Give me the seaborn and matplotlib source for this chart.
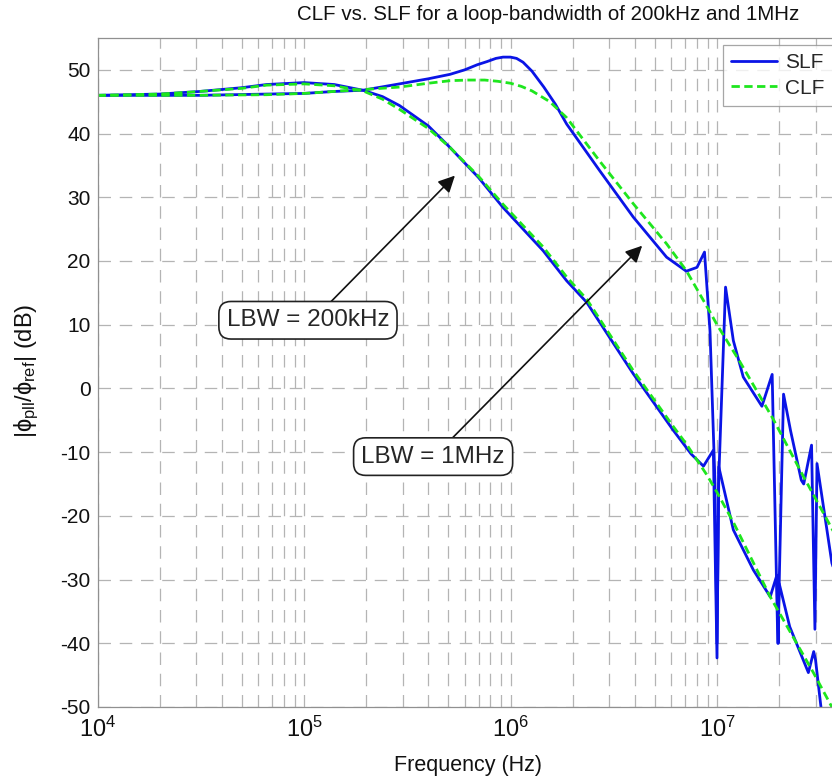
import numpy as np
import pandas as pd
import matplotlib
matplotlib.use("Agg")
import matplotlib.pyplot as plt
import seaborn as sns

# --- Du lieu doc tu hinh (tan so Hz, bien do dB) ---
slf_200k_f = [1e4, 2e4, 3.1e4, 5e4, 6.6e4, 1e5, 1.4e5, 1.93e5, 2.4e5, 2.9e5, 4e5, 5.1e5, 7e5,
              9.2e5, 1.44e6, 1.87e6, 2.34e6, 3.93e6, 6.15e6, 7.5e6, 8.6e6, 9.6e6,
              1.0e7, 1.02e7, 1.2e7, 1.5e7, 1.81e7, 1.95e7, 1.98e7, 2.0e7, 2.25e7,
              2.77e7, 2.94e7, 3.0e7, 3.2e7, 3.6e7]
slf_200k_db = [46.0, 46.2, 46.6, 47.2, 47.7, 48.0, 47.7, 46.8, 45.8, 44.4, 41.2, 37.8, 33.1,
               28.4, 21.6, 16.9, 13.5, 2.3, -6.6, -10.3, -12.2, -9.7,
               -42.3, -12.3, -22.2, -28.5, -32.7, -29.3, -40.0, -30.6, -37.4,
               -44.6, -41.3, -42.6, -50.5, -56.0]

clf_200k_f = [1e4, 2e4, 3.1e4, 5e4, 6.6e4, 1e5, 1.4e5, 1.93e5, 2.4e5, 2.9e5, 4e5, 5.1e5, 7e5,
              9.2e5, 1.44e6, 1.87e6, 2.34e6, 3.93e6, 6.15e6, 7.13e6, 8.9e6, 1e7,
              1.2e7, 1.81e7, 2.94e7, 3.6e7, 4.5e7]
clf_200k_db = [46.0, 46.2, 46.6, 47.1, 47.6, 47.8, 47.5, 46.7, 45.4, 43.8, 40.8, 37.8, 33.3,
               28.9, 22.2, 17.5, 14.0, 2.8, -6.0, -8.8, -13.5, -16.3,
               -21.0, -32.7, -44.7, -50.0, -55.5]

slf_1m_f = [1e4, 3.1e4, 6.6e4, 1e5, 1.38e5, 1.93e5, 2.9e5, 4e5, 5.1e5, 6e5, 6.9e5, 7.7e5,
            8.5e5, 9.2e5, 1e6, 1.07e6, 1.15e6, 1.27e6, 1.45e6, 1.65e6, 1.87e6, 2.7e6,
            3.93e6, 5.7e6, 7.1e6, 8.0e6, 8.7e6, 9.25e6,
            9.77e6, 1.0e7, 1.02e7, 1.1e7, 1.2e7, 1.34e7, 1.65e7, 1.85e7, 1.97e7,
            2.1e7, 2.27e7, 2.56e7, 2.63e7, 2.87e7, 2.98e7, 3.05e7, 3.6e7, 4.0e7]
slf_1m_db = [46.0, 46.0, 46.2, 46.3, 46.6, 46.8, 47.8, 48.6, 49.3, 50.0, 50.8, 51.3,
             51.8, 52.0, 52.0, 51.8, 51.2, 49.8, 47.3, 44.6, 41.5, 34.2,
             26.9, 20.6, 18.4, 19.0, 21.4, 9.0,
             -14.4, -40.0, -14.0, 15.9, 7.5, 1.8, -2.8, 2.2, -40.0,
             -0.9, -6.6, -14.4, -15.0, -8.9, -37.8, -11.8, -27.4, -32.0]

clf_1m_f = [1e4, 3.1e4, 6.6e4, 1e5, 1.38e5, 1.93e5, 2.9e5, 4e5, 5.1e5, 6.2e5, 7.5e5, 8.7e5,
            1e6, 1.13e6, 1.27e6, 1.55e6, 1.87e6, 2.7e6, 3.93e6, 5.7e6, 7.1e6, 9.25e6,
            1e7, 1.29e7, 1.87e7, 2.6e7, 3.6e7, 4.5e7]
clf_1m_db = [46.0, 46.0, 46.1, 46.3, 46.6, 46.9, 47.3, 47.9, 48.3, 48.4, 48.4, 48.2,
             47.9, 47.4, 46.7, 45.0, 42.5, 35.7, 29.0, 22.7, 18.5, 12.0,
             10.0, 4.2, -4.8, -13.6, -22.0, -28.0]

x_ticks = [1e4, 1e5, 1e6, 1e7]
y_ticks = list(range(-50, 51, 10))

# --- Gom thanh bang dai ---
frames = []
for f, db, loai, lbw in [(slf_200k_f, slf_200k_db, "SLF", "200kHz"),
                         (clf_200k_f, clf_200k_db, "CLF", "200kHz"),
                         (slf_1m_f, slf_1m_db, "SLF", "1MHz"),
                         (clf_1m_f, clf_1m_db, "CLF", "1MHz")]:
    frames.append(pd.DataFrame({"freq": f, "db": db, "filter": loai, "lbw": lbw}))
df = pd.concat(frames, ignore_index=True)

# --- Style ---
sns.set_theme(style="white")
plt.rcParams["font.family"] = ["Liberation Sans", "DejaVu Sans"]
plt.rcParams["mathtext.fontset"] = "custom"
plt.rcParams["mathtext.rm"] = "Liberation Sans"
plt.rcParams["mathtext.it"] = "Liberation Sans"
plt.rcParams["mathtext.bf"] = "Liberation Sans:bold"
plt.rcParams["axes.unicode_minus"] = False

W, H = 832, 783
fig = plt.figure(figsize=(W / 100, H / 100), dpi=100)
ax_left, ax_bottom, ax_top = 97.5, 707, 38
ax_w = 4 * 206.5
ax = fig.add_axes([ax_left / W, 1 - ax_bottom / H, ax_w / W, (ax_bottom - ax_top) / H])

sns.lineplot(data=df, x="freq", y="db", hue="filter", style="filter", units="lbw",
             estimator=None, sort=False, hue_order=["SLF", "CLF"],
             style_order=["SLF", "CLF"],
             palette={"SLF": "#0a14e6", "CLF": "#1ee61e"},
             dashes={"SLF": "", "CLF": (3, 1.6)}, linewidth=2, ax=ax)

ax.set_xscale("log")
ax.set_xlim(1e4, 1e8)
ax.set_ylim(-50, 55)
ax.set_xticks(x_ticks)
ax.set_yticks(y_ticks)

grid_kw = dict(color="#b4b4b4", linestyle=(0, (10, 7)), linewidth=0.9)
ax.grid(True, which="major", axis="both", **grid_kw)
ax.grid(True, which="minor", axis="x", **grid_kw)
ax.set_axisbelow(True)

ax.tick_params(axis="both", which="both", direction="in", color="#909090",
               labelsize=15, labelcolor="#111111", top=False, right=False)
ax.tick_params(axis="x", which="major", length=8, pad=7, labelsize=17)
ax.tick_params(axis="x", which="minor", length=8)
ax.tick_params(axis="y", which="major", length=8, pad=5)
for s in ax.spines.values():
    s.set_color("#909090")
    s.set_linewidth(0.9)

ax.set_xlabel("Frequency (Hz)", fontsize=15.5, color="#111111")
ax.xaxis.set_label_coords((468 - ax_left) / ax_w, -(765 - ax_bottom) / (ax_bottom - ax_top))
ax.xaxis.label.set_va("center")
ax.set_ylabel(r"$|\phi_{pll}/\phi_{ref}|$ (dB)", fontsize=17, color="#111111")
ax.yaxis.set_label_coords(-(ax_left - 27) / ax_w, (ax_bottom - 371) / (ax_bottom - ax_top))
ax.yaxis.label.set_va("center")

fig.text(548 / W, 1 - 15 / H, "CLF vs. SLF for a loop-bandwidth of 200kHz and 1MHz",
         ha="center", va="center", fontsize=14.8, color="#111111")

# --- Chu thich ---
box = dict(boxstyle="round,pad=0.32,rounding_size=0.5", fc="white", ec="#222222", lw=1.2)
arrow = dict(arrowstyle="-|>", color="#111111", lw=1.2, mutation_scale=25, shrinkA=0, shrinkB=0)
ax.annotate("", xy=(5.38e5, 33.4), xytext=(1.34e5, 13.5), arrowprops=arrow)
ax.annotate("", xy=(4.34e6, 22.4), xytext=(5.26e5, -7.7), arrowprops=arrow)
ax.text(1.045e5, 10.7, "LBW = 200kHz", ha="center", va="center", fontsize=17.5, bbox=box)
ax.text(4.22e5, -10.7, "LBW = 1MHz", ha="center", va="center", fontsize=17.5, bbox=box)

# --- Chu giai ---
sns.move_legend(ax, loc="upper left",
                bbox_to_anchor=((722.7 - ax_left) / ax_w, (ax_bottom - 45) / (ax_bottom - ax_top)),
                title=None, frameon=True, fancybox=False, fontsize=15,
                handlelength=2.2, handletextpad=0.4, borderpad=0.4, labelspacing=0.3,
                borderaxespad=0)
leg = ax.get_legend()
leg.get_frame().set_edgecolor("#909090")
leg.get_frame().set_linewidth(0.9)

fig.savefig("out.png", dpi=100)
